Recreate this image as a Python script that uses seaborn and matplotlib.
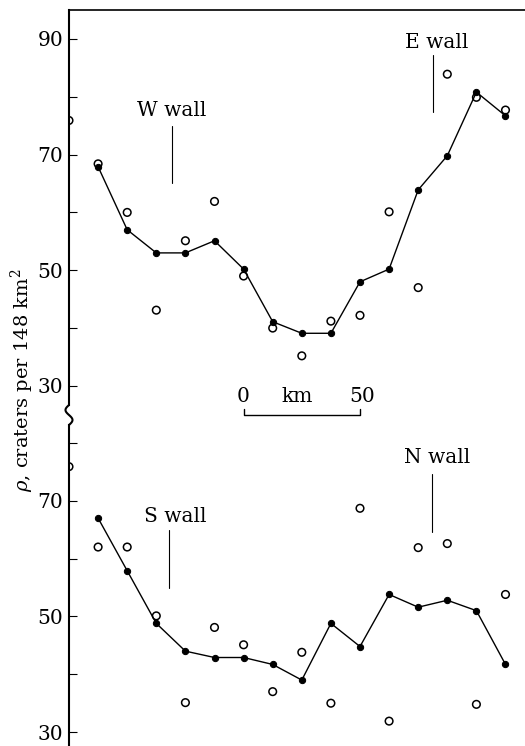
import numpy as np
import pandas as pd
import matplotlib
matplotlib.use("Agg")
import matplotlib.pyplot as plt
from matplotlib.lines import Line2D
import seaborn as sns

# Crater counts along the crater floor, sampled every 12.5 km
step_km = 12.5
open_km = [i * step_km for i in range(16)]          # individual counts
mean_km = [i * step_km for i in range(1, 16)]       # running means

ew_counts = [75.9, 68.4, 60.0, 43.1, 55.1, 61.9, 49.0, 40.0, 35.2, 41.2,
             42.2, 60.1, 47.0, 83.9, 79.9, 77.7]
ew_means = [67.9, 57.0, 53.0, 53.0, 55.1, 50.2, 41.1, 39.1, 39.1, 48.0,
            50.2, 63.9, 69.8, 80.8, 76.7]

sn_counts = [75.9, 62.0, 62.0, 50.1, 35.1, 48.1, 45.1, 37.0, 43.8, 35.0,
             68.7, 31.9, 61.9, 62.6, 34.8, 53.8]
sn_means = [67.0, 57.9, 48.8, 44.0, 42.9, 42.9, 41.7, 39.0, 48.8, 44.8,
            53.8, 51.6, 52.8, 51.0, 41.7]

# Wall markers: (label, text x km, line x km, text y, line top, line bottom)
ew_walls = [("W wall", 44.3, 44.3, 77.7, 75.0, 65.1),
            ("E wall", 158.0, 156.3, 89.3, 87.2, 77.3)]
sn_walls = [("S wall", 45.5, 43.1, 67.2, 64.9, 54.9),
            ("N wall", 158.0, 156.1, 77.4, 74.6, 64.6)]

major_ticks_top = [30, 50, 70, 90]
major_ticks_bot = [30, 50, 70]

sns.set_theme(style="ticks")
plt.rcParams["font.family"] = ["DejaVu Serif"]
plt.rcParams["mathtext.fontset"] = "dejavuserif"
for key in ("text.color", "axes.labelcolor", "axes.edgecolor",
            "xtick.color", "ytick.color"):
    plt.rcParams[key] = "black"

W_PX, H_PX = 525, 746
fig = plt.figure(figsize=(W_PX / 100, H_PX / 100), dpi=100)
left = 69 / W_PX
width = 1 - left
ax_top = fig.add_axes([left, 1 - 405 / H_PX, width, (405 - 10) / H_PX])
ax_bot = fig.add_axes([left, 0, width, 1 - 425 / H_PX])

xmax = (W_PX - 69) / 29.1 * step_km


def draw_panel(ax, counts, means, walls, ylim, majors, top_spine):
    df_open = pd.DataFrame({"km": open_km, "rho": counts})
    df_mean = pd.DataFrame({"km": mean_km, "rho": means})
    sns.lineplot(data=df_mean, x="km", y="rho", ax=ax, color="black",
                 linewidth=1.0, marker="o", markersize=4.5,
                 markeredgecolor="black", markerfacecolor="black", zorder=3)
    sns.scatterplot(data=df_open, x="km", y="rho", ax=ax, s=30,
                    facecolor="none", edgecolor="black", linewidth=1.1,
                    marker="o", zorder=4)
    for label, tx, lx, ty, y1, y2 in walls:
        ax.text(tx, ty, label, ha="center", va="center", fontsize=14.5,
                color="black")
        ax.plot([lx, lx], [y1, y2], color="black", linewidth=0.8)
    ax.set_xlim(0, xmax)
    ax.set_ylim(*ylim)
    ax.set_xticks([])
    ax.set_yticks(majors)
    ax.set_yticks(np.arange(30, ylim[1], 10), minor=True)
    ax.set_yticklabels([str(v) for v in majors])
    ax.tick_params(axis="y", which="both", direction="in", length=6,
                   width=0.8, pad=4, labelsize=14.5, left=True,
                   color="black", labelcolor="black")
    ax.set_xlabel("")
    ax.set_ylabel("")
    ax.patch.set_alpha(0)
    for side in ("right", "bottom"):
        ax.spines[side].set_visible(False)
    ax.spines["top"].set_visible(top_spine)
    ax.spines["top"].set_linewidth(1.2)
    ax.spines["left"].set_linewidth(1.5)
    for sp in ax.spines.values():
        sp.set_color("black")


draw_panel(ax_top, ew_counts, ew_means, ew_walls, (26.7, 95.0), major_ticks_top, True)
draw_panel(ax_bot, sn_counts, sn_means, sn_walls, (27.6, 83.1), major_ticks_bot, False)

# Distance scale bar
ax_top.plot([75, 75, 125, 125], [26.0, 24.95, 24.95, 26.0], color="black",
            linewidth=1.0, clip_on=False)
for x, s in [(74.7, "0"), (97.9, "km"), (125.9, "50")]:
    ax_top.text(x, 28.2, s, ha="center", va="center", fontsize=14.5,
                color="black", clip_on=False)

# Broken-axis wave joining the two spines
t = np.linspace(0, 1, 60)
wx = (69 - 3.5 * np.sin(2 * np.pi * t)) / W_PX
wy = 1 - (405 + 20 * t) / H_PX
fig.add_artist(Line2D(wx, wy, transform=fig.transFigure, color="black", linewidth=1.5))

fig.text(22 / W_PX, 1 - 380 / H_PX, r"$\rho$, craters per 148 km$^2$",
         rotation=90, ha="center", va="center", fontsize=14, color="black")

fig.savefig("out.png", dpi=100)
